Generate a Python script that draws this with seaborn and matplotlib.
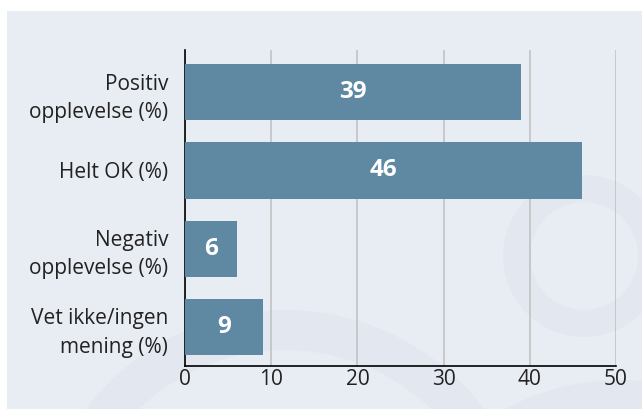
import matplotlib
matplotlib.use("Agg")
import matplotlib.pyplot as plt
import matplotlib.patches as mpatches
import pandas as pd
import seaborn as sns

# data
categories = ["Positiv\nopplevelse (%)", "Helt OK (%)", "Negativ\nopplevelse (%)", "Vet ikke/ingen\nmening (%)"]
values = [39, 46, 6, 9]
xticks = [0, 10, 20, 30, 40, 50]

df = pd.DataFrame({"kategori": categories, "prosent": values})

bg = "#e8ecf3"
bar_color = "#5f88a3"
ring_color = "#e3e8f0"

sns.set_style("white")
plt.rcParams["font.family"] = ["Open Sans", "DejaVu Sans"]

fig = plt.figure(figsize=(6.42, 4.09), dpi=100)
fig.patch.set_facecolor("white")

# light panel behind the chart
fig.patches.append(mpatches.Rectangle((7 / 642, 0), 1, 1 - 11 / 409, transform=fig.transFigure,
                                      facecolor=bg, edgecolor="none", zorder=-10))
# faint decorative rings (inch coordinates so they stay round)
fig.patches.append(mpatches.Wedge((5.84, 4.09 - 2.56), 0.81, 0, 360, width=0.27,
                                  transform=fig.dpi_scale_trans, facecolor=ring_color,
                                  edgecolor="none", zorder=-9))
fig.patches.append(mpatches.Wedge((2.85, 4.09 - 5.6), 2.5, 0, 360, width=0.4,
                                  transform=fig.dpi_scale_trans, facecolor=ring_color,
                                  edgecolor="none", zorder=-9))
fig.patches.append(mpatches.Wedge((6.2, 4.09 - 6.2), 2.4, 0, 360, width=0.4,
                                  transform=fig.dpi_scale_trans, facecolor=ring_color,
                                  edgecolor="none", zorder=-9))

ax = fig.add_axes([185 / 642, 1 - 366 / 409, (616 - 185) / 642, (366 - 50) / 409])
ax.set_facecolor("none")

sns.barplot(data=df, x="prosent", y="kategori", color=bar_color, width=0.72,
            saturation=1, linewidth=0, ax=ax, zorder=3)

for p, v in zip(ax.patches, values):
    ax.text(v / 2, p.get_y() + p.get_height() / 2, str(v), ha="center", va="center",
            color="white", fontsize=17.5, fontweight="bold", zorder=4)

ax.set_xlim(0, 50)
ax.set_ylim(3.5, -0.54)
ax.set_xticks(xticks)
ax.xaxis.grid(True, color="#c2c2c2", linewidth=1.2, zorder=0)
ax.set_axisbelow(True)
ax.set_xlabel("")
ax.set_ylabel("")

for s in ["top", "right"]:
    ax.spines[s].set_visible(False)
for s in ["left", "bottom"]:
    ax.spines[s].set_color("black")
    ax.spines[s].set_linewidth(1.2)

ax.tick_params(axis="x", length=0, labelsize=15, colors="#222222", pad=2)
ax.tick_params(axis="y", length=0, labelsize=15, colors="#222222", pad=12)
for lbl in ax.get_yticklabels():
    lbl.set_horizontalalignment("right")
    lbl.set_multialignment("right")
    lbl.set_linespacing(1.45)

fig.savefig("out.png", dpi=100)
